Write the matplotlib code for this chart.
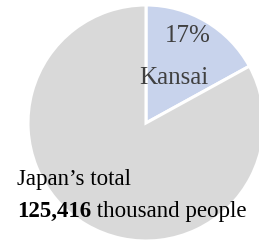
import matplotlib
matplotlib.use('Agg')
import matplotlib.pyplot as plt

labels = ['Kansai', 'Rest of Japan']
shares = [17, 83]
colors = ['#c8d3ec', '#d9d9d9']
total_value = '125,416'

plt.rcParams['font.family'] = 'Liberation Serif'

W, H = 259, 244
fig = plt.figure(figsize=(W / 100, H / 100), dpi=100)

# pie centre and radius in pixels
cx, cy, r = 146, 123, 118
ax = fig.add_axes([(cx - r) / W, (H - cy - r) / H, 2 * r / W, 2 * r / H])
ax.pie(shares, colors=colors, startangle=90, counterclock=False,
       wedgeprops=dict(edgecolor='white', linewidth=2.2))
ax.set_xlim(-1, 1)
ax.set_ylim(-1, 1)
ax.axis('off')

fig.text(187.5 / W, 1 - 36 / H, f'{shares[0]}%', fontsize=18, color='#404040',
         ha='center', va='center')
fig.text(173.5 / W, 1 - 78 / H, labels[0], fontsize=18, color='#404040',
         ha='center', va='center')

fig.text(17 / W, 1 - 185 / H, 'Japan\u2019s total', fontsize=16.5, color='black',
         ha='left', va='baseline')
t = fig.text(17 / W, 1 - 217 / H, total_value, fontsize=16.5, color='black',
             fontweight='bold', ha='left', va='baseline')
fig.canvas.draw()
bb = t.get_window_extent()
fig.text(bb.x1 / W, 1 - 217 / H, ' thousand people', fontsize=16.5, color='black',
         ha='left', va='baseline')

fig.savefig('out.png', dpi=100)
